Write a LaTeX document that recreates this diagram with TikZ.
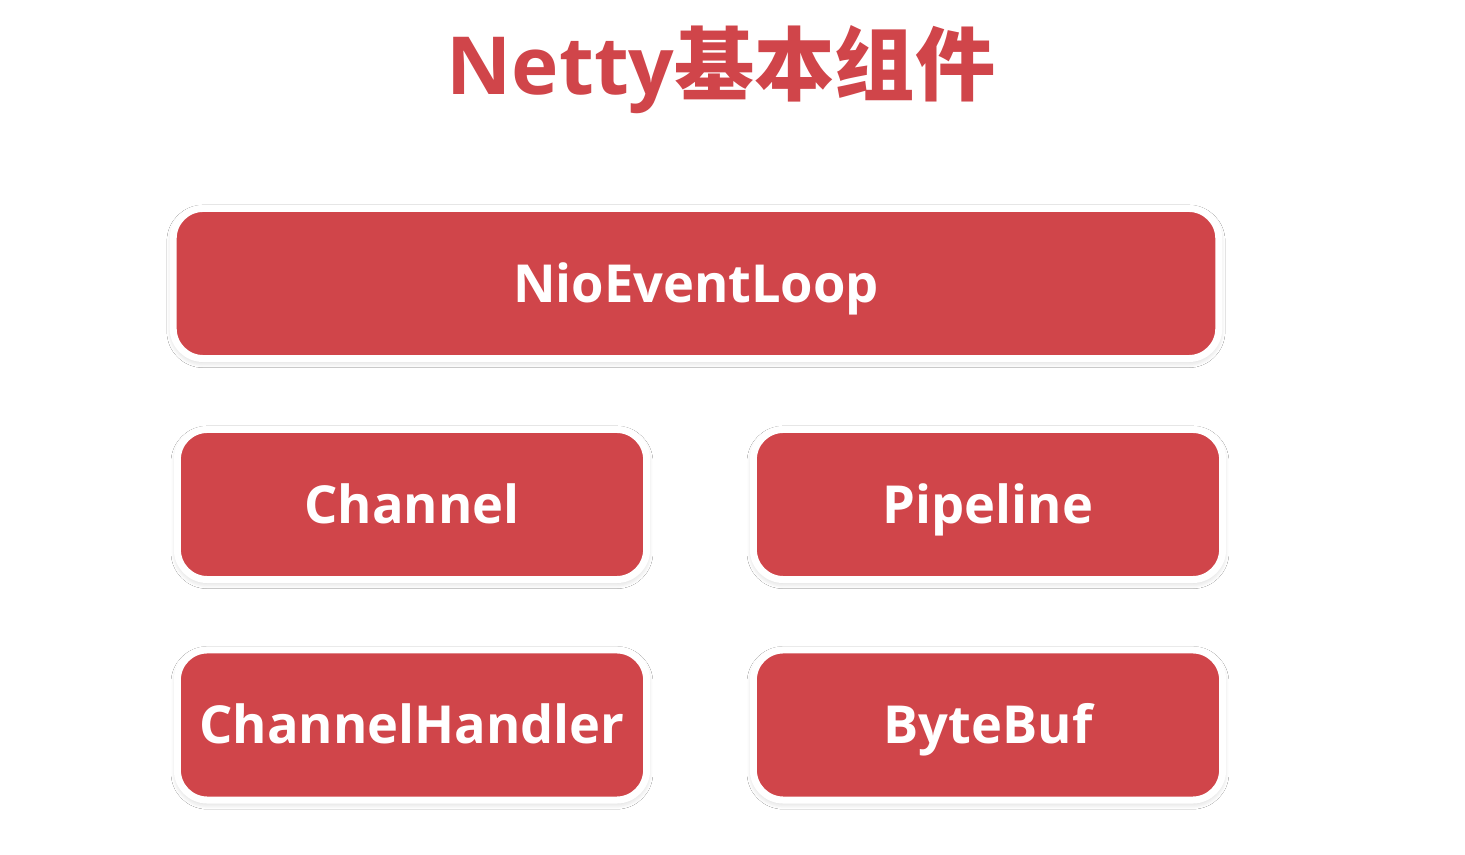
\documentclass[tikz,border=0pt]{standalone}
\usepackage{fontspec}
\setmainfont{Open Sans}
\newfontfamily\cjk{Noto Sans CJK SC}
\usetikzlibrary{shadows.blur}
\definecolor{nettyred}{HTML}{D0454A}
\tikzset{
    compbox/.style={rounded corners=0.3cm, fill=nettyred, draw=white, line width=0.07cm,
        blur shadow={shadow xshift=0pt, shadow yshift=-0.8pt, shadow opacity=22, shadow blur radius=1.8pt, shadow blur steps=10},
        text=white, font=\fontsize{14.9}{18}\selectfont\bfseries, inner sep=0pt,
        text height=10.64pt, text depth=0pt, minimum height=1.50cm}
}
\begin{document}
\begin{tikzpicture}[x=0.01cm, y=-0.01cm]
        \useasboundingbox [fill=white] (0,0) rectangle (1465,855);

        \node (title) [text=nettyred, font=\fontsize{22.8}{26}\selectfont\bfseries] at (721,70) {Netty{\cjk 基本组件}};

        \node (loop) [compbox, minimum width=10.45cm] at (696,283.5) {NioEventLoop};
        \node (channel) [compbox, minimum width=4.69cm] at (412,504.5) {Channel};
        \node (pipeline) [compbox, minimum width=4.69cm] at (988,504.5) {Pipeline};
        \node (handler) [compbox, minimum width=4.69cm] at (412,725) {ChannelHandler};
        \node (bytebuf) [compbox, minimum width=4.69cm] at (988,725) {ByteBuf};
    \end{tikzpicture}
\end{document}
